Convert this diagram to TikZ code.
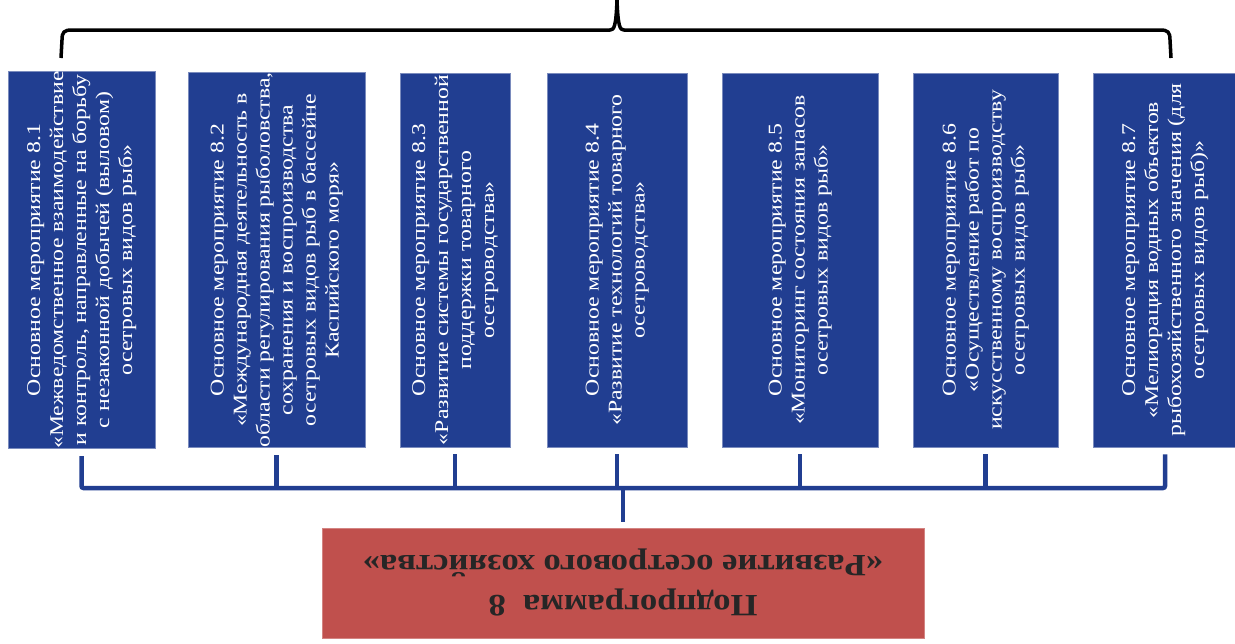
\documentclass[tikz,border=0pt]{standalone}
\usepackage{fontspec}
\setmainfont{Liberation Serif}
\newfontfamily\boxfont[FakeStretch=1.22]{Liberation Serif}
\newfontfamily\redfont[FakeStretch=1.12]{Liberation Serif}
\definecolor{boxblue}{RGB}{33,62,145}
\definecolor{boxred}{RGB}{192,80,77}
\tikzset{
  bluebox/.style={fill=boxblue, draw=boxblue!60!white, line width=0.6pt, inner sep=0pt,
    minimum height=374pt, text=white, font=\boxfont\fontsize{19.5}{23}\selectfont},
  redbox/.style={fill=boxred, draw=boxred!70!white, line width=0.6pt, inner sep=0pt,
    minimum width=602pt, minimum height=110pt, text=black!85,
    font=\redfont\bfseries\fontsize{31}{40}\selectfont},
  conn/.style={draw=boxblue, line width=4.5pt},
  bracestyle/.style={draw=black, line width=3.5pt}
}
\newcommand{\vtext}[1]{\rotatebox{90}{\begin{tabular}{@{}c@{}}#1\end{tabular}}}
\begin{document}
\begin{tikzpicture}[x=1pt,y=-1pt]
\useasboundingbox (0,0) rectangle (1235,643);
\fill[white] (0,0) rectangle (1235,643);

\node[bluebox, minimum width=147pt] (b1) at (81.5,260) {\vtext{Основное мероприятие 8.1\\«Межведомственное взаимодействие\\и контроль, направленные на борьбу\\с незаконной добычей (выловом)\\осетровых видов рыб»}};
\node[bluebox, minimum width=177pt] (b2) at (276.5,260) {\vtext{Основное мероприятие 8.2\\«Международная деятельность в\\области регулирования рыболовства,\\сохранения и воспроизводства\\осетровых видов рыб в бассейне\\Каспийского моря»}};
\node[bluebox, minimum width=110pt] (b3) at (455,260) {\vtext{Основное мероприятие 8.3\\«Развитие системы государственной\\поддержки товарного\\осетроводства»}};
\node[bluebox, minimum width=140pt] (b4) at (617,260) {\vtext{Основное мероприятие 8.4\\«Развитие технологий товарного\\осетроводства»}};
\node[bluebox, minimum width=156pt] (b5) at (800,260) {\vtext{Основное мероприятие 8.5\\«Мониторинг состояния запасов\\осетровых видов рыб»}};
\node[bluebox, minimum width=145pt] (b6) at (985.5,260) {\vtext{Основное мероприятие 8.6\\«Осуществление работ по\\искусственному воспроизводству\\осетровых видов рыб»}};
\node[bluebox, minimum width=144pt] (b7) at (1165,260) {\vtext{Основное мероприятие 8.7\\«Мелиорация водных объектов\\рыбохозяйственного значения (для\\осетровых видов рыб)»}};

\node[redbox] (red) at (623,583) {\rotatebox{180}{\begin{tabular}{@{}c@{}}Подпрограмма\ \ 8\\«Развитие осетрового хозяйства»\end{tabular}}};

\coordinate (bus) at (0,488);
\coordinate (braceL) at (61,58);
\coordinate (braceR) at (1171,58);
\coordinate (braceTip) at (617,0);

% blue connectors
\draw[conn, rounded corners=2pt, shorten <=7pt, shorten >=7pt]
  (b1.south) -- (b1.south |- bus) -- (b7.south |- bus) -- (b7.south);
\foreach \b in {b2,b3,b4,b5,b6}
  \draw[conn, shorten <=7pt] (\b.south) -- (\b.south |- bus);
\draw[conn, shorten >=6pt] (red.north |- bus) -- (red.north);

% brace
\draw[bracestyle, line join=round]
  (braceL) -- (62,40) .. controls (62,32) and (64,30) .. (72,30)
  -- (610,30) .. controls (614,30) and (616,27) .. (braceTip)
  .. controls (618,27) and (620,30) .. (624,30)
  -- (1160,30) .. controls (1168,30) and (1170,32) .. (1170,40) -- (braceR);
\end{tikzpicture}
\end{document}
